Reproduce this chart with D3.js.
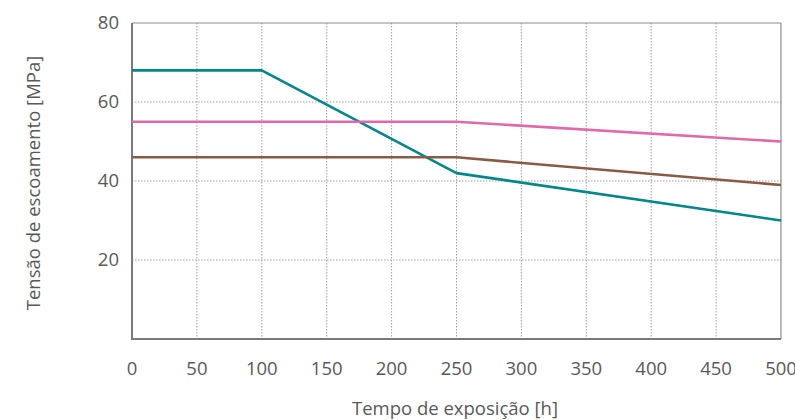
<!DOCTYPE html>
<html>
<head>
<meta charset="utf-8">
<script src="https://cdn.jsdelivr.net/npm/d3@7"></script>
<style>
  body { margin: 0; background: #fff; }
  text { font-family: "Open Sans", "Noto Sans", sans-serif; fill: #595959; }
</style>
</head>
<body>
<svg id="chart" width="795" height="420"></svg>
<script>
// Exposure time (h) at each breakpoint
const hours = [0, 100, 250, 500];
// Yield stress series (MPa)
const seriesTeal  = [68, 68, 42, 30];
const seriesPink  = [55, 55, 55, 50];
const seriesBrown = [46, 46, 46, 39];
const xTicks = [0, 50, 100, 150, 200, 250, 300, 350, 400, 450, 500];
const yTicks = [20, 40, 60, 80];

const series = [
  { name: "teal",  values: seriesTeal,  color: "#00868b" },
  { name: "pink",  values: seriesPink,  color: "#e06aa8" },
  { name: "brown", values: seriesBrown, color: "#8a5a44" }
];

const svg = d3.select("#chart");
const plotL = 132, plotR = 781, plotT = 23, plotB = 339;

const x = d3.scaleLinear().domain([0, 500]).range([plotL, plotR]);
const y = d3.scaleLinear().domain([0, 80]).range([plotB, plotT]);

// Dotted grid
svg.append("g").selectAll("line")
  .data(xTicks.filter(t => t > 0 && t < 500))
  .join("line")
  .attr("x1", d => x(d)).attr("x2", d => x(d))
  .attr("y1", plotT).attr("y2", plotB)
  .attr("stroke", "#a0a0a0").attr("stroke-width", 1)
  .attr("stroke-dasharray", "1.5,1.5");
svg.append("g").selectAll("line")
  .data(yTicks.filter(t => t < 80))
  .join("line")
  .attr("x1", plotL).attr("x2", plotR)
  .attr("y1", d => y(d)).attr("y2", d => y(d))
  .attr("stroke", "#a0a0a0").attr("stroke-width", 1)
  .attr("stroke-dasharray", "1.5,1.5");

// Plot frame
svg.append("line").attr("x1", plotL).attr("x2", plotR).attr("y1", plotT).attr("y2", plotT)
  .attr("stroke", "#8c8c8c").attr("stroke-width", 1.2);
svg.append("line").attr("x1", plotR).attr("x2", plotR).attr("y1", plotT).attr("y2", plotB)
  .attr("stroke", "#8c8c8c").attr("stroke-width", 1.2);
svg.append("line").attr("x1", plotL).attr("x2", plotL).attr("y1", plotT).attr("y2", plotB)
  .attr("stroke", "#7a7a7a").attr("stroke-width", 2);
svg.append("line").attr("x1", plotL - 1).attr("x2", plotR).attr("y1", plotB).attr("y2", plotB)
  .attr("stroke", "#7a7a7a").attr("stroke-width", 2);

// Series lines
const line = d3.line().x((d, i) => x(hours[i])).y(d => y(d));
svg.append("g").selectAll("path")
  .data(series)
  .join("path")
  .attr("d", d => line(d.values))
  .attr("fill", "none")
  .attr("stroke", d => d.color)
  .attr("stroke-width", 2.6)
  .attr("stroke-linejoin", "round");

// Tick labels
svg.append("g").selectAll("text")
  .data(xTicks)
  .join("text")
  .attr("x", d => x(d)).attr("y", 375)
  .attr("text-anchor", "middle")
  .style("font-size", "18.5px")
  .text(d => d);
svg.append("g").selectAll("text")
  .data(yTicks)
  .join("text")
  .attr("x", 119).attr("y", d => y(d) + 6)
  .attr("text-anchor", "end")
  .style("font-size", "18.5px")
  .text(d => d);

// Axis titles
svg.append("text")
  .attr("x", 455).attr("y", 415)
  .attr("text-anchor", "middle")
  .style("font-size", "18.5px")
  .text("Tempo de exposição [h]");
svg.append("text")
  .attr("transform", "translate(40,183) rotate(-90)")
  .attr("text-anchor", "middle")
  .style("font-size", "18.5px")
  .text("Tensão de escoamento [MPa]");
</script>
</body>
</html>
